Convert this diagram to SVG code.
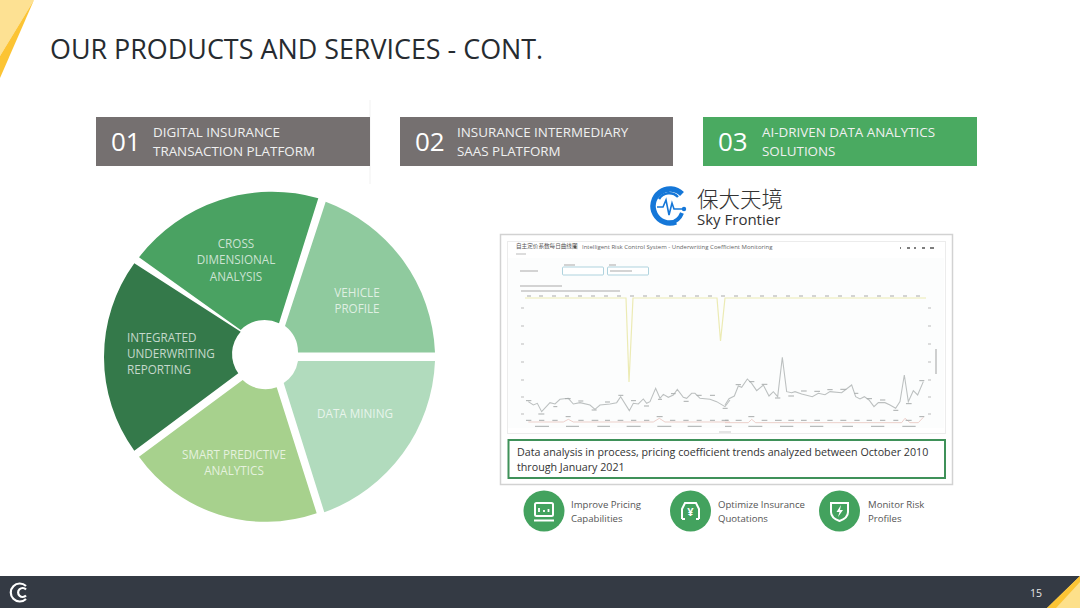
<svg xmlns="http://www.w3.org/2000/svg" width="1080" height="608" viewBox="0 0 1080 608">
<style>
text{font-family:"Open Sans","Noto Sans","Noto Sans CJK SC",sans-serif}
.hb{fill:#757070}.hg{fill:#4aaa61}
.num{font-size:26px;fill:#fff}
.ht{font-size:13.4px;fill:#f0f0f0}
.pl{font-size:11.7px;fill:#fff;fill-opacity:.72;text-anchor:middle}
.cap{font-size:9.6px;fill:#555}
.ic{fill:#43a25e}
.iw{fill:none;stroke:#fff;stroke-width:2}
</style>
<defs><filter id="b" x="-5%" y="-5%" width="110%" height="110%"><feGaussianBlur stdDeviation="0.55"/></filter></defs>
<rect width="1080" height="608" fill="#fff"/>
<g id="corner-top">
<polygon points="0,0 34,0 0,56" fill="#fde193"/>
<polygon points="34,0 0,78 0,56" fill="#fcc434"/>
</g>
<text x="50" y="59" font-size="26.9" fill="#262b30">OUR PRODUCTS AND SERVICES - CONT.</text>
<line x1="370" y1="100" x2="370" y2="184" stroke="#f1f1f1"/>
<g id="head-01"><rect class="hb" x="96" y="117" width="274" height="49"/><text class="num" x="111" y="151">01</text><text class="ht" x="153" y="137">DIGITAL INSURANCE</text><text class="ht" x="153" y="156">TRANSACTION PLATFORM</text></g>
<g id="head-02"><rect class="hb" x="400" y="117" width="273" height="49"/><text class="num" x="415" y="151">02</text><text class="ht" x="457" y="137">INSURANCE INTERMEDIARY</text><text class="ht" x="457" y="156">SAAS PLATFORM</text></g>
<g id="head-03"><rect class="hg" x="703" y="117" width="274" height="49"/><text class="num" x="718" y="151">03</text><text class="ht" x="762" y="137">AI-DRIVEN DATA ANALYTICS</text><text class="ht" x="762" y="156">SOLUTIONS</text></g>

<g id="seg-vehicle"><path d="M285.5,352.5H435A168,168 0 0 0 325.7,201.7L285,326A33,33 0 0 1 298,352.5Z" fill="#8fca9e"/><text class="pl" x="357" y="297">VEHICLE</text><text class="pl" x="357" y="313">PROFILE</text></g>
<g id="seg-data"><path d="M298,361H435A168,168 0 0 1 324.3,512.3L283.7,383A33,33 0 0 0 298,361Z" fill="#b1dbbd"/><text class="pl" x="355" y="418">DATA MINING</text></g>
<g id="seg-smart"><path d="M139,456.7L242.7,380A33,33 0 0 0 276.7,387.3L316.7,513.3A156,156 0 0 1 139,456.7Z" fill="#a7d18d"/><text class="pl" x="234" y="458.500">SMART PREDICTIVE</text><text class="pl" x="234" y="474.500">ANALYTICS</text></g>
<g id="seg-integrated"><path d="M134.3,450.7A160,160 0 0 1 134.3,263.3L240.7,331.7A33,33 0 0 0 238.3,373.3Z" fill="#34794a"/><text x="127" y="342" class="pl" style="text-anchor:start">INTEGRATED</text><text x="127" y="358" class="pl" style="text-anchor:start">UNDERWRITING</text><text x="127" y="374" class="pl" style="text-anchor:start">REPORTING</text></g>
<g id="seg-cross"><path d="M139,257.3A168,168 0 0 1 318.3,198.3L279,323.3A33,33 0 0 0 240.7,330Z" fill="#4aa262"/><text class="pl" x="236" y="247.500">CROSS</text><text class="pl" x="236" y="264">DIMENSIONAL</text><text class="pl" x="236" y="280.500">ANALYSIS</text></g>

<g id="logo">
<path d="M682,194A17,17 0 1 0 676,222" fill="none" stroke="#1577d8" stroke-width="5.500"/>
<path d="M659,199A12,12 0 0 1 678,197" fill="none" stroke="#1577d8" stroke-width="2.500"/>
<path d="M682,213A16,16 0 0 1 670,223" fill="none" stroke="#1577d8" stroke-width="4"/>
<path d="M657,207H663L666,200L669,215L672,203L674,209H683" fill="none" stroke="#1577d8" stroke-width="1.600"/>
<circle cx="684" cy="209" r="2.200" fill="#1577d8"/>
<text x="697" y="206.500" font-size="21.500" fill="#333" style="font-family:'Noto Sans CJK SC',sans-serif;font-weight:300">保大天境</text>
<text x="697" y="224.500" font-size="15" fill="#333">Sky Frontier</text>
</g>

<g id="screenshot">
<rect x="500.5" y="234.5" width="452" height="250" fill="#fff" stroke="#d2d2d2" stroke-width="1.500"/>
<rect x="507.500" y="241.500" width="438" height="192" fill="#fff" stroke="#ececec"/>
<text x="516" y="248" font-size="5.600" fill="#555">自主定价系数每日曲线图</text>
<circle cx="575" cy="247" r="1.500" fill="#555"/>
<text x="582" y="249" font-size="6" fill="#666">Intelligent Risk Control System - Underwriting Coefficient Monitoring</text>
<g filter="url(#b)">
<rect x="508" y="258" width="436" height="170" fill="#fcfdfd"/>
<path d="M516,254H526" stroke="#bbb" stroke-width="1"/>
<path d="M900,248H901M907,248H910M914,248H916M922,248H925M930,248H934" stroke="#555" stroke-width="1.500"/>
<rect x="562.500" y="267" width="41" height="8" rx="1" fill="#fff" stroke="#8cc0d0" stroke-width=".7"/>
<rect x="607.500" y="267" width="41" height="8" rx="1" fill="#fff" stroke="#8cc0d0" stroke-width=".7"/>
<path d="M520,271H538M610,271H632M564,265H575M609,265H616M520,286H562M521,291H620" stroke="#aaa" stroke-width="1.200"/>
<path d="M527,296H531M539,296H543M552,296H556M565,296H569M578,296H582M591,296H595M604,296H608M617,296H621M630,296H634M643,296H647M656,296H660M669,296H673M682,296H686M695,296H699M708,296H712M721,296H725M734,296H738M747,296H751M760,296H764M773,296H777M786,296H790M799,296H803M812,296H816M825,296H829M838,296H842M851,296H855M864,296H868M877,296H881M890,296H894M903,296H907M916,296H920" stroke="#aaa" stroke-width="1"/>
<path d="M521,308H524M521,326H524M521,344H524M521,362H524M521,380H524M521,397H524M521,414H524M928,308H931M928,326H931M928,344H931M928,362H931M928,380H931M928,397H931M928,414H931" stroke="#bbb" stroke-width="1"/>
<path d="M936,349V374" stroke="#bbb" stroke-width="1.400"/>
<polyline points="525,298 626,298 629,382 633,298 717,298 720.5,341 725,298 926,298" fill="none" stroke="#ecebb4" stroke-width="1.200"/>
<g transform="translate(500,300) scale(.3333)" fill="none" stroke="#bcc0c0" stroke-width="3.200">
<polyline points="85,305 100,315 112,310 125,335 150,308 165,312 180,298 205,295 220,312 240,308 270,315 285,328 300,315 330,312 350,308 362,290 388,332 400,310 415,312 430,297 440,310 450,305 467,265 480,295 490,283 505,292 520,285 532,268 550,292 560,295 575,280 585,280 600,295 630,298 650,305 675,320 690,300"/>
<polyline points="85,366 190,366 205,358 220,366 460,366 478,355 495,366 690,366" stroke="#e8c4be" stroke-width="2.400"/>
<path d="M78,302H94M160,320H172M195,296H212M235,303H250M275,330H290M315,306H330M355,286H370M393,302H408M432,318H447M474,298H486M513,281H527M551,304H566M590,286H605M630,286H645M668,325H683M115,342H133M78,361H94M117,361H133M157,361H173M197,350H212M235,361H251M275,361H295M315,361H330M353,361H370M393,361H409M432,361H448M470,350H488M510,361H526M550,361H566M590,361H605M630,361H645M665,361H686M105,379H147M198,379H237M292,379H330M380,379H422M472,379H514M563,379H605" stroke="#a8acac" stroke-width="3"/>
</g>
<g transform="translate(725,300) scale(.3333)" fill="none" stroke="#bcc0c0" stroke-width="3.200">
<polyline points="0,315 12,296 28,288 40,258 50,262 67,237 80,250 95,272 115,255 132,288 145,275 158,290 172,172 185,275 200,278 210,275 230,282 262,290 280,280 300,284 315,275 350,278 380,255 392,290 405,297 418,290 432,300 447,320 460,308 480,308 495,315 512,325 525,305 538,225 550,305 565,272 578,285 595,245"/>
<polyline points="0,368 70,368 80,358 92,368 530,368 540,355 555,368 580,368 595,352" stroke="#e8c4be" stroke-width="2.400"/>
<path d="M32,254H48M72,245H88M110,253H127M150,294H166M190,288H207M228,273H245M268,274H285M307,269H323M346,268H364M388,280H400M425,296H441M465,300H481M505,331H520M543,311H560M583,242H598M0,361H10M32,361H50M70,350H88M110,361H127M150,361H170M190,361H207M228,361H245M268,361H285M307,361H323M346,361H364M388,361H404M425,361H441M465,361H481M505,361H520M542,361H560M583,350H598M0,379H20M70,379H112M165,379H205M255,379H295M352,379H384M438,379H478M532,379H572" stroke="#a8acac" stroke-width="3"/>
</g>
<path d="M719,432H731" stroke="#ddd" stroke-width="1.500"/>
</g>
</g>
<g id="caption">
<rect x="508.500" y="440" width="436.500" height="38" fill="#fff" stroke="#3f9159" stroke-width="2"/>
<text x="517" y="456" font-size="10.700" fill="#333">Data analysis in process, pricing coefficient trends analyzed between October 2010</text>
<text x="517" y="470.500" font-size="10.700" fill="#333">through January 2021</text>
</g>
<g id="benefit-1">
<circle class="ic" cx="544" cy="511" r="20.500"/>
<rect class="iw" x="535" y="503" width="18" height="13" rx="1.500"/>
<path d="M534,520.500H554" stroke="#fff" stroke-width="2"/>
<path d="M539,512V508M544,512V510M548.500,512V509" stroke="#fff" stroke-width="1.800"/>
<text class="cap" x="571" y="508">Improve Pricing</text><text class="cap" x="571" y="521.500">Capabilities</text>
</g>
<g id="benefit-2">
<circle class="ic" cx="690.500" cy="511" r="20.500"/>
<path class="iw" d="M682,519V509L685,503H696L699,509V519M682,519H685M696,519H699"/>
<text x="690.500" y="515.500" font-size="11" font-weight="700" fill="#fff" text-anchor="middle">¥</text>
<text class="cap" x="718" y="508">Optimize Insurance</text><text class="cap" x="718" y="521.500">Quotations</text>
</g>
<g id="benefit-3">
<circle class="ic" cx="839.500" cy="511" r="20.500"/>
<path class="iw" d="M831,503H848V512Q848,518 839.500,521Q831,518 831,512Z"/>
<path d="M841,505L836.500,512H839.500L838,517L843,510H840Z" fill="#fff"/>
<text class="cap" x="868" y="508">Monitor Risk</text><text class="cap" x="868" y="521.500">Profiles</text>
</g>
<g id="footer">
<rect y="576" width="1080" height="32" fill="#343a44"/>
<polygon points="1047,608 1080,576 1080,608" fill="#fde08a"/>
<polygon points="1047,608 1080,576 1080,582 1056,608" fill="#fcc434"/>
<path d="M26,586A9,9 0 1 0 26,599" fill="none" stroke="#fff" stroke-width="2.200"/>
<path d="M26,589.500A4.500,4.500 0 1 0 26,595.500" fill="none" stroke="#fff" stroke-width="2.200"/>
<text x="1030" y="596.500" font-size="10.500" fill="#e8e8e8">15</text>
</g>
</svg>
